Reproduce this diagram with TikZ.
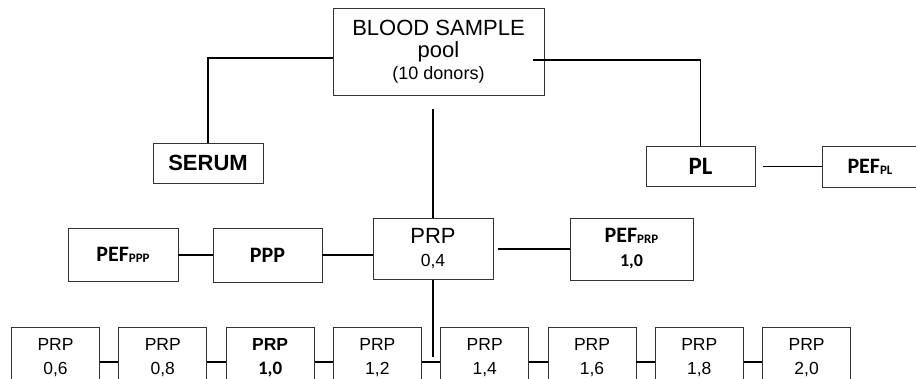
\documentclass[tikz,border=0pt]{standalone}
\usepackage{fontspec}
\setmainfont{Liberation Sans}
\newfontfamily\calibri{Carlito}
\usetikzlibrary{positioning,calc}
\tikzset{
  box/.style={draw=black!80,line width=.8pt,align=center,inner sep=0pt},
  link/.style={draw=black,line width=1.3pt},
  bigtxt/.style={font=\fontsize{22}{22}\selectfont},
  cbold/.style={font=\calibri\bfseries\fontsize{22}{24}\selectfont},
  prpbox/.style={box,minimum width=88pt,minimum height=62pt,font=\fontsize{17.5}{24}\selectfont}
}
\newcommand{\lowtag}[1]{\raisebox{-1pt}{\fontsize{13}{13}\selectfont #1}}

\begin{document}
\begin{tikzpicture}[x=1pt,y=-1pt,node distance=18.5pt]
  \useasboundingbox (0,0) rectangle (916,378);
  \clip (0,0) rectangle (916,378);
  % top of the tree
  \node[box,bigtxt,minimum width=211pt,minimum height=87pt] (blood) at (438.5,51.5)
    {BLOOD SAMPLE\\pool\\\fontsize{18}{21}\selectfont (10 donors)};
  \node[box,bigtxt,minimum width=110pt,minimum height=40pt] (serum) at (208,163) {\bfseries SERUM};
  \node[box,cbold,minimum width=109pt,minimum height=40pt] (pl) at (700.5,166.5) {\fontsize{25}{26}\selectfont PL};
  \node[box,cbold,minimum width=96pt,minimum height=41pt] (pefpl) at (870,166.5) {PEF\lowtag{PL}};
  % middle row
  \node[box,font=\fontsize{22}{23}\selectfont,minimum width=120pt,minimum height=61pt] (prp) at (433,249)
    {PRP\\\fontsize{17.5}{23}\selectfont 0,4};
  \node[box,cbold,minimum width=109pt,minimum height=54pt] (ppp) at (267.5,255) {PPP};
  \node[box,cbold,minimum width=110pt,minimum height=53pt] (pefppp) at (123,255) {PEF\lowtag{PPP}};
  \node[box,cbold,minimum width=123pt,minimum height=62pt] (pefprp) at (631.5,249)
    {PEF\lowtag{PRP}\\\fontsize{18}{24}\selectfont 1,0};
  % bottom row
  \node[prpbox] (p06) at (55.5,358) {PRP\\0,6};
  \node[prpbox,right=of p06] (p08) {PRP\\0,8};
  \node[prpbox,right=of p08] (p10) {\bfseries PRP\\\calibri\bfseries\fontsize{19}{24}\selectfont 1,0};
  \node[prpbox,right=of p10] (p12) {PRP\\1,2};
  \node[prpbox,right=of p12] (p14) {PRP\\1,4};
  \node[prpbox,right=of p14] (p16) {PRP\\1,6};
  \node[prpbox,right=of p16] (p18) {PRP\\1,8};
  \node[prpbox,right=of p18] (p20) {PRP\\2,0};
  % connectors
  \coordinate (cut) at ($(blood.east)+(-11,8.5)$);
  \coordinate (drop) at ($(blood.south -| prp.north)+(0,14)$);
  \coordinate (stub) at ($(prp.south)+(0,77)$);
  \draw[link] ([yshift=-6.5pt]blood.west) -| (serum.north);
  \draw[link] (cut) -| (pl.north);
  \draw[link] (drop) -- (prp.north);
  \draw[link] ([xshift=8pt]pl.east) -- (pefpl.west);
  \draw[link] (pefppp) -- (ppp);
  \draw[link] (ppp.east) -- (ppp.east -| prp.west);
  \draw[link] ([xshift=5pt]prp.east) -- (pefprp.west);
  \draw[link] (prp.south) -- (stub);
  \foreach \a/\b in {p06/p08,p08/p10,p10/p12,p12/p14,p14/p16,p16/p18,p18/p20}
    \draw[link] ([yshift=-4pt]\a.east) -- ([yshift=-4pt]\b.west);
\end{tikzpicture}
\end{document}
